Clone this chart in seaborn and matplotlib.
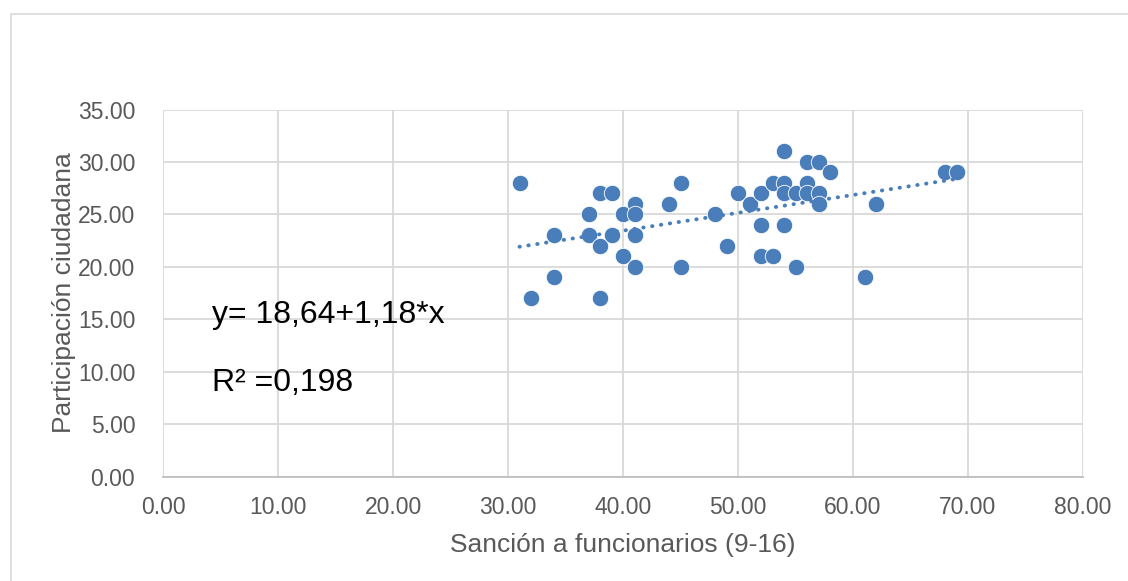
import numpy as np
import pandas as pd
import matplotlib
matplotlib.use("Agg")
import matplotlib.pyplot as plt
import seaborn as sns
from matplotlib.patches import Rectangle

# datos
sancion = [31, 32, 34, 34, 37, 37, 38, 38, 38, 39, 39, 40, 40, 41, 41, 41, 41,
           44, 45, 45, 48, 49, 50, 51, 52, 52, 52, 53, 53, 54, 54, 54, 54,
           55, 55, 56, 56, 56, 57, 57, 57, 58, 61, 62, 68, 69]
participacion = [28, 17, 23, 19, 25, 23, 27, 22, 17, 27, 23, 25, 21, 26, 25, 23, 20,
                 26, 28, 20, 25, 22, 27, 26, 27, 24, 21, 28, 21, 31, 28, 27, 24,
                 27, 20, 30, 28, 27, 30, 27, 26, 29, 19, 26, 29, 29]
x_ticks = [0, 10, 20, 30, 40, 50, 60, 70, 80]
y_ticks = [0, 5, 10, 15, 20, 25, 30, 35]
ecuacion = "y= 18,64+1,18*x"
r2_texto = "R² =0,198"

df = pd.DataFrame({"x": sancion, "y": participacion})

sns.set_theme(style="white")
plt.rcParams["font.family"] = ["Liberation Sans", "DejaVu Sans"]

azul = "#4a7ebb"
gris = "#595959"

fig = plt.figure(figsize=(11.28, 5.81), dpi=100)
ax = fig.add_axes([163 / 1128, 1 - 476.7 / 581, (1083 - 163) / 1128, (476.7 - 109.5) / 581])

# marco exterior
fig.patches.append(Rectangle((11 / 1128, -0.1), 1.2, 1 - 14 / 581 + 0.1,
                             transform=fig.transFigure, fill=False,
                             edgecolor="#d9d9d9", lw=1.2))

sns.regplot(data=df, x="x", y="y", ax=ax, ci=None, truncate=True,
            scatter_kws=dict(s=140, color=azul, edgecolors="white", linewidths=0.6, alpha=1, zorder=3),
            line_kws=dict(color=azul, lw=2.8, linestyle=(0, (0.1, 2.2)),
                          dash_capstyle="round", zorder=4))

ax.set_xlim(0, 80)
ax.set_ylim(0, 35)
ax.set_xticks(x_ticks)
ax.set_yticks(y_ticks)
ax.set_xticklabels([f"{v:.2f}" for v in x_ticks])
ax.set_yticklabels([f"{v:.2f}" for v in y_ticks])
ax.tick_params(axis="both", labelsize=16.5, colors=gris, length=0)
ax.tick_params(axis="y", pad=20)
ax.tick_params(axis="x", pad=14)
ax.grid(True, color="#d9d9d9", lw=1.3)
ax.set_axisbelow(True)
for s in ["top", "right", "left"]:
    ax.spines[s].set_visible(False)
ax.spines["bottom"].set_color("#bfbfbf")
ax.spines["bottom"].set_linewidth(1.3)

ax.set_xlabel("Sanción a funcionarios (9-16)", fontsize=19, color=gris, labelpad=10)
ax.set_ylabel("Participación ciudadana", fontsize=19, color=gris, labelpad=1)

ax.text(4.3, 15.4, ecuacion, fontsize=23, color="black", va="center", ha="left")
ax.text(4.3, 8.9, r2_texto, fontsize=23, color="black", va="center", ha="left")

fig.savefig("out.png", dpi=100)
